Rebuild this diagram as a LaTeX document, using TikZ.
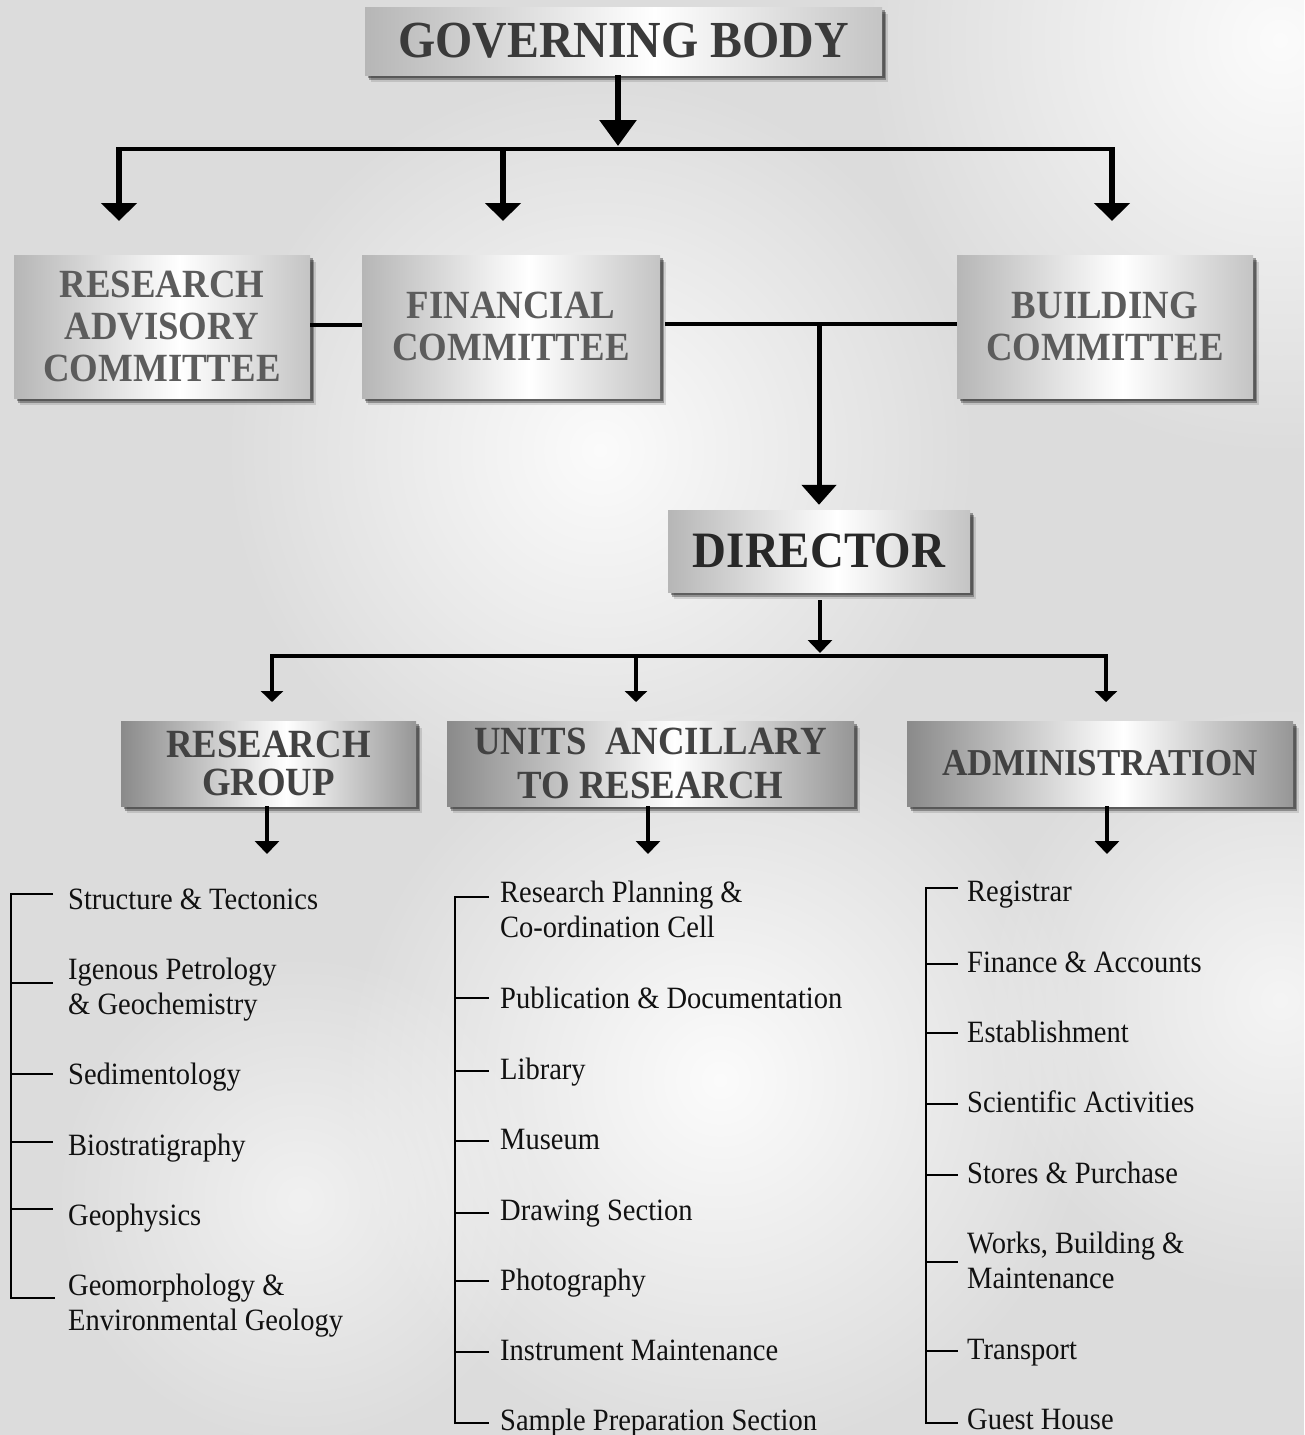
\documentclass[tikz,border=0pt]{standalone}
\usepackage{fontspec}
\setmainfont{Liberation Serif}[FakeStretch=0.92]
\usetikzlibrary{arrows.meta,shadows,fadings}

\definecolor{bgc}{RGB}{220,220,220}
\definecolor{edgeA}{RGB}{182,182,182}
\definecolor{edgeA2}{RGB}{196,196,196}
\definecolor{edgeB}{RGB}{138,138,138}
\definecolor{edgeB2}{RGB}{150,150,150}
\definecolor{gbtext}{RGB}{58,58,58}
\definecolor{cmtext}{RGB}{92,92,92}
\definecolor{drtext}{RGB}{40,40,40}
\definecolor{lowtext}{RGB}{66,66,66}
\definecolor{listtext}{RGB}{17,17,17}

\pgfdeclarehorizontalshading{silverA}{100bp}{color(0bp)=(edgeA); color(25bp)=(edgeA); color(53bp)=(white); color(75bp)=(edgeA2); color(100bp)=(edgeA2)}
\pgfdeclarehorizontalshading{silverB}{100bp}{color(0bp)=(edgeB); color(25bp)=(edgeB); color(53bp)=(white); color(75bp)=(edgeB2); color(100bp)=(edgeB2)}
\tikzfading[name=softc, inner color=transparent!0, outer color=transparent!100]

\begin{document}
\begin{tikzpicture}[x=1pt,y=-1pt,
  boxbase/.style={inner sep=0pt, align=center,
    general shadow={shadow xshift=6pt, shadow yshift=-7pt, fill=black, opacity=0.12},
    general shadow={shadow xshift=4pt, shadow yshift=-5pt, fill=black, opacity=0.3},
    general shadow={shadow xshift=2.5pt, shadow yshift=-3pt, fill=black, opacity=0.35}},
  topbox/.style={boxbase, shading=silverA},
  lowbox/.style={boxbase, shading=silverB},
  bigfont/.style={font=\fontsize{#1}{#1}\selectfont\bfseries},
  cmfont/.style={font=\fontsize{40}{42}\selectfont\bfseries, text=cmtext},
  lowfont/.style={font=\fontsize{40}{44}\selectfont\bfseries, text=lowtext},
  item/.style={anchor=base west, inner sep=0pt, align=left, text=listtext,
    font=\fontsize{31}{35}\selectfont},
  thick arrow/.style={line width=6pt, -{Triangle[width=36pt,length=26pt]}},
  mid arrow/.style={line width=6pt, -{Triangle[width=35pt,length=18pt]}},
  small arrow/.style={line width=4.5pt, -{Triangle[width=24pt,length=13pt]}},
  tiny arrow/.style={line width=4pt, -{Triangle[width=22pt,length=11pt]}},
  joinline/.style={line width=4pt},
  bracket/.style={line width=2.5pt}
]
% background
\fill[bgc] (0,0) rectangle (1304,1435);
\useasboundingbox (0,0) rectangle (1304,1435);
\fill[white, opacity=0.9, path fading=softc] (1280,40) circle[radius=420pt];
\fill[white, opacity=0.9, path fading=softc] (600,450) circle[radius=380pt];
\fill[white, opacity=0.9, path fading=softc] (720,1080) circle[radius=380pt];
\fill[white, opacity=0.7, path fading=softc] (1280,1000) circle[radius=300pt];
\fill[white, opacity=0.6, path fading=softc] (300,1200) circle[radius=250pt];

% boxes
\node[topbox, minimum width=517pt, minimum height=68pt, bigfont=52, text=gbtext] (gb) at (623.5,41) {GOVERNING BODY};
\node[topbox, minimum width=296pt, minimum height=143pt, cmfont] (rac) at (162,326.5) {RESEARCH\\ADVISORY\\COMMITTEE};
\node[topbox, minimum width=298pt, minimum height=143pt, cmfont] (fc) at (511,326.5) {FINANCIAL\\COMMITTEE};
\node[topbox, minimum width=296pt, minimum height=143pt, cmfont] (bc) at (1105,326.5) {BUILDING\\COMMITTEE};
\node[topbox, minimum width=302pt, minimum height=82pt, bigfont=51, text=drtext] (dir) at (819,551) {DIRECTOR};
\node[lowbox, minimum width=295pt, minimum height=85pt, font=\fontsize{40}{38}\selectfont\bfseries, text=lowtext] (rg) at (268.5,763.5) {RESEARCH\\GROUP};
\node[lowbox, minimum width=407pt, minimum height=85pt, lowfont] (uar) at (650.5,763.5) {UNITS\ \ ANCILLARY\\TO RESEARCH};
\node[lowbox, minimum width=386pt, minimum height=85pt, bigfont=38, text=lowtext] (adm) at (1100,763.5) {ADMINISTRATION};

% top connectors
\coordinate (j0) at (618,149);
\coordinate (jl) at (117,149);
\coordinate (jr) at (1114,149);
\coordinate (t1) at (119,221);
\coordinate (t2) at (503,221);
\coordinate (t3) at (1112,221);
\draw[thick arrow] (gb.south -| j0) -- ([yshift=3pt]j0);
\draw[joinline] (jl) -- (jr);
\draw[mid arrow] (119,147) -- (t1);
\draw[mid arrow] (503,147) -- (t2);
\draw[mid arrow] (1112,147) -- (t3);

% committee links
\draw[joinline] (rac.east |- 0,325) -- (fc.west |- 0,325);
\coordinate (jd) at (819,324);
\draw[joinline] (665,324) -- (bc.west |- jd);
\draw[line width=5pt, -{Triangle[width=34pt,length=20pt]}] (jd) -- ([yshift=5pt]dir.north);

% director connectors
\coordinate (k0) at (820,653);
\draw[small arrow] (820,600) -- (k0);
\draw[joinline] (272,656) -- (1107,656);
\coordinate (u1) at (272,702);
\coordinate (u2) at (636,702);
\coordinate (u3) at (1106,702);
\draw[tiny arrow] (272,654) -- (u1);
\draw[tiny arrow] (636,656) -- (u2);
\draw[tiny arrow] (1106,654) -- (u3);

% arrows below the lower boxes
\coordinate (v1) at (267,854);
\coordinate (v2) at (648,854);
\coordinate (v3) at (1107,854);
\draw[small arrow] (rg.south -| v1) -- (v1);
\draw[small arrow] (uar.south -| v2) -- (v2);
\draw[small arrow] (adm.south -| v3) -- (v3);

% left list
\node[item] (l1) at (68,909) {Structure \& Tectonics};
\node[item] (l2) at (68,1014) {Igenous Petrology\\\& Geochemistry};
\node[item] (l3) at (68,1084) {Sedimentology};
\node[item] (l4) at (68,1155) {Biostratigraphy};
\node[item] (l5) at (68,1225) {Geophysics};
\node[item] (l6) at (68,1330) {Geomorphology \&\\Environmental Geology};
\draw[bracket] (53,894) -- (11,894) -- (11,1298) -- (55,1298);
\foreach \y in {983,1074,1142,1209} \draw[bracket] (11,\y) -- (53,\y);

% middle list
\node[item] (m1) at (500,937) {Research Planning \&\\Co-ordination Cell};
\node[item] (m2) at (500,1008) {Publication \& Documentation};
\node[item] (m3) at (500,1079) {Library};
\node[item] (m4) at (500,1149) {Museum};
\node[item] (m5) at (500,1220) {Drawing Section};
\node[item] (m6) at (500,1290) {Photography};
\node[item] (m7) at (500,1360) {Instrument Maintenance};
\node[item] (m8) at (500,1430) {Sample Preparation Section};
\draw[bracket] (489,897) -- (455,897) -- (455,1423) -- (489,1423);
\foreach \y in {998,1071,1141,1213,1281,1352} \draw[bracket] (455,\y) -- (489,\y);

% right list
\node[item] (r1) at (967,901) {Registrar};
\node[item] (r2) at (967,972) {Finance \& Accounts};
\node[item] (r3) at (967,1042) {Establishment};
\node[item] (r4) at (967,1112) {Scientific Activities};
\node[item] (r5) at (967,1183) {Stores \& Purchase};
\node[item] (r6) at (967,1288) {Works, Building \&\\Maintenance};
\node[item] (r7) at (967,1359) {Transport};
\node[item] (r8) at (967,1429) {Guest House};
\draw[bracket] (958,888) -- (926,888) -- (926,1423) -- (958,1423);
\foreach \y in {964,1033,1104,1175,1262,1351} \draw[bracket] (926,\y) -- (958,\y);
\end{tikzpicture}
\end{document}
